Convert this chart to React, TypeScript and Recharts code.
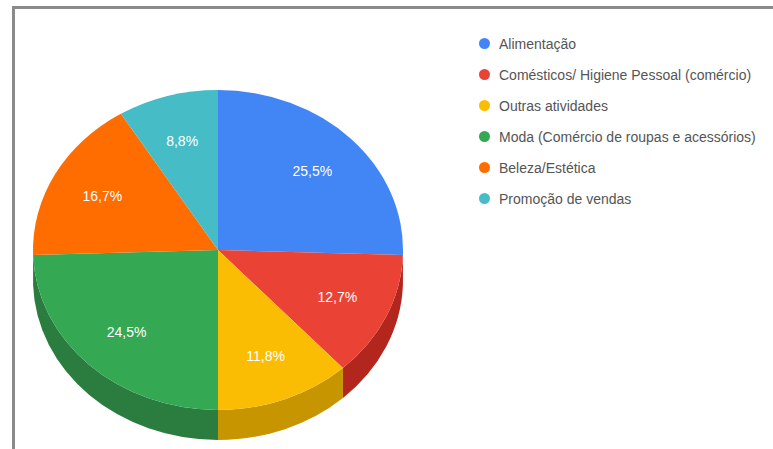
import React from "react";
import { PieChart, Pie, Cell, Legend } from "recharts";

const CATEGORIES = [
  "Alimentação",
  "Comésticos/ Higiene Pessoal (comércio)",
  "Outras atividades",
  "Moda (Comércio de roupas e acessórios)",
  "Beleza/Estética",
  "Promoção de vendas",
];
const VALUES = [25.5, 12.7, 11.8, 24.5, 16.7, 8.8];
const COLORS = ["#4285F4", "#EA4335", "#FBBC04", "#34A853", "#FF6D01", "#46BDC6"];
const SIDE_COLORS = ["#3367C6", "#B3261E", "#C69500", "#2A7D3E", "#C45400", "#35939A"];

const data = CATEGORIES.map((name, i) => ({ name, value: VALUES[i] }));

const RX = 185;
const RY = 160;
const DEPTH = 30;
const RAD = Math.PI / 180;
const LABEL_K = 0.71;

const pt = (cx: number, cy: number, a: number, dy = 0) =>
  `${cx + RX * Math.cos(a * RAD)} ${cy - RY * Math.sin(a * RAD) + dy}`;

const renderSector = (props: any) => {
  const { cx, cy, startAngle, endAngle, fill } = props;
  const idx = COLORS.indexOf(fill);
  const side = SIDE_COLORS[idx >= 0 ? idx : 0];
  const large = Math.abs(startAngle - endAngle) > 180 ? 1 : 0;
  const top = `M ${cx} ${cy} L ${pt(cx, cy, startAngle)} A ${RX} ${RY} 0 ${large} 1 ${pt(cx, cy, endAngle)} Z`;
  const hi = Math.min(startAngle, 0);
  const lo = Math.max(endAngle, -180);
  let sidePath = "";
  if (hi > lo) {
    sidePath = `M ${pt(cx, cy, hi)} A ${RX} ${RY} 0 0 1 ${pt(cx, cy, lo)} L ${pt(cx, cy, lo, DEPTH)} A ${RX} ${RY} 0 0 0 ${pt(cx, cy, hi, DEPTH)} Z`;
  }
  return (
    <g>
      {sidePath && <path d={sidePath} fill={side} stroke="none" />}
      <path d={top} fill={fill} stroke="none" />
    </g>
  );
};

const renderLabel = (props: any) => {
  const { cx, cy, midAngle, value } = props;
  const x = cx + RX * LABEL_K * Math.cos(midAngle * RAD);
  const y = cy - RY * LABEL_K * Math.sin(midAngle * RAD);
  return (
    <text
      x={x}
      y={y}
      fill="#ffffff"
      textAnchor="middle"
      dominantBaseline="central"
      fontSize={14}
      fontFamily="'Liberation Sans', Arial, sans-serif"
    >
      {Number(value).toFixed(1).replace(".", ",") + "%"}
    </text>
  );
};

const renderLegend = () => (
  <div style={{ fontFamily: "'Liberation Sans', Arial, sans-serif" }}>
    {CATEGORIES.map((c, i) => (
      <div
        key={c}
        style={{ display: "flex", alignItems: "center", height: 31, whiteSpace: "nowrap" }}
      >
        <span
          style={{
            display: "inline-block",
            width: 11,
            height: 11,
            borderRadius: "50%",
            background: COLORS[i],
            marginRight: 9,
          }}
        />
        <span style={{ fontSize: 14, color: "#555" }}>{c}</span>
      </div>
    ))}
  </div>
);

export default function App() {
  return (
    <div
      style={{
        position: "absolute",
        left: 0,
        top: 0,
        width: 773,
        height: 449,
        background: "#fff",
        overflow: "hidden",
      }}
    >
      <div
        style={{
          position: "absolute",
          left: 12,
          top: 6,
          width: 780,
          height: 500,
          borderLeft: "3px solid #8a8a8a",
          borderTop: "3px solid #8a8a8a",
        }}
      />
      <div style={{ position: "absolute", left: 0, top: 0 }}>
        <PieChart width={773} height={449} margin={{ top: 0, right: 0, bottom: 0, left: 0 }}>
          <Pie
            data={data}
            dataKey="value"
            nameKey="name"
            cx={218}
            cy={250}
            outerRadius={RX}
            startAngle={90}
            endAngle={-270}
            stroke="none"
            isAnimationActive={false}
            label={renderLabel}
            labelLine={false}
            shape={renderSector}
            activeShape={renderSector}
            inactiveShape={renderSector}
          >
            {data.map((d, i) => (
              <Cell key={d.name} fill={COLORS[i]} />
            ))}
          </Pie>
          <Legend
            layout="vertical"
            verticalAlign="top"
            align="right"
            content={renderLegend}
            wrapperStyle={{ position: "absolute", left: 479, top: 28, width: 290 }}
          />
        </PieChart>
      </div>
    </div>
  );
}
